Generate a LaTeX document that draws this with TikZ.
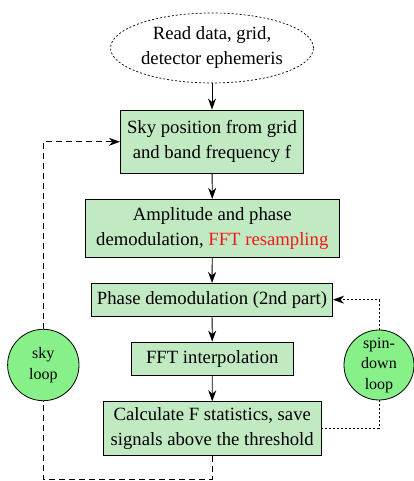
\documentclass[tikz,border=0pt]{standalone}
\usepackage{fontspec}
\setmainfont{Liberation Serif}
\usetikzlibrary{shapes.geometric,arrows.meta}
\definecolor{boxgreen}{HTML}{C2EAC2}
\definecolor{loopgreen}{HTML}{88F088}
\definecolor{fftred}{HTML}{F01818}
\begin{document}
\begin{tikzpicture}[x=1pt,y=1pt,
  stepbox/.style={draw, line width=0.8pt, fill=boxgreen, align=center, inner sep=2pt,
    font=\fontsize{18.7}{25}\selectfont},
  loopnode/.style={draw, line width=0.8pt, circle, fill=loopgreen, align=center, inner sep=0pt,
    font=\fontsize{16}{20.5}\selectfont},
  startnode/.style={draw, ellipse, dash pattern=on 2pt off 2pt, line width=0.7pt, align=center,
    inner sep=0pt, font=\fontsize{18.7}{25}\selectfont},
  flow/.style={line width=0.8pt, -{Stealth[length=11pt,width=8pt,inset=3.5pt]}},
  skyline/.style={line width=0.9pt, dash pattern=on 6pt off 4pt},
  spinline/.style={line width=0.8pt, dash pattern=on 2pt off 2pt}
]
\useasboundingbox (0,0) rectangle (413,481);
\node[startnode, minimum width=203, minimum height=70] (read) at (212,433) {Read data, grid,\\detector ephemeris};
\node[stepbox, minimum width=183.3, minimum height=63.7] (sky) at (212,339.2) {Sky position from grid\\and band frequency f};
\node[stepbox, minimum width=253.3, minimum height=58] (amp) at (212.3,252.7) {Amplitude and phase\\demodulation, \textcolor{fftred}{FFT resampling}};
\node[stepbox, minimum width=241.4, minimum height=32.7] (phase) at (212,181.3) {Phase demodulation (2nd part)};
\node[stepbox, minimum width=162, minimum height=33.7] (fft) at (212.3,122.2) {FFT interpolation};
\node[stepbox, minimum width=217.7, minimum height=54] (calc) at (212.2,52.3) {Calculate F statistics, save\\signals above the threshold};
\node[loopnode, minimum size=71.4] (skyloop) at (43.3,116) {sky\\loop};
\node[loopnode, minimum size=70] (spinloop) at (379,116) {spin-\\down\\loop};
\coordinate (bot) at (212.2,1.7);
\draw[flow] (read) -- (sky);
\draw[flow] (sky) -- (amp);
\draw[flow] (amp) -- (phase);
\draw[flow] (phase) -- (fft);
\draw[flow] (fft) -- (calc);
\draw[skyline] (calc.south) -- (bot) -| (skyloop.south);
\draw[skyline, -{Stealth[length=11pt,width=8pt,inset=3.5pt]}] (skyloop.north) |- (sky.west);
\draw[spinline] (calc.east) -| (spinloop.south);
\draw[spinline, -{Stealth[length=11pt,width=8pt,inset=3.5pt]}] (spinloop.north) |- (phase.east);
\end{tikzpicture}
\end{document}
